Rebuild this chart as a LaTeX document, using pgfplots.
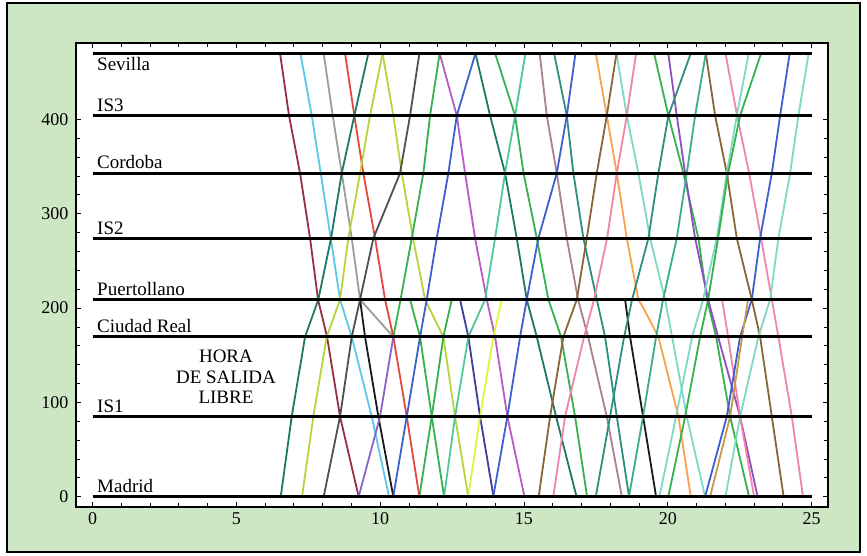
\documentclass[border=0pt]{standalone}
\usepackage{fontspec}
\setmainfont{Liberation Serif}
\usepackage{pgfplots}
\pgfplotsset{compat=1.18}
\definecolor{frameg}{HTML}{CDE6C4}
\definecolor{cmaroon}{HTML}{9B2D41}
\definecolor{ccyan}{HTML}{5BC8E8}
\definecolor{cgrey}{HTML}{A09A98}
\definecolor{cred}{HTML}{E5473F}
\definecolor{cdteal}{HTML}{1E7768}
\definecolor{cygreen}{HTML}{B9D43A}
\definecolor{cdgrey}{HTML}{505050}
\definecolor{cgreen}{HTML}{34B24C}
\definecolor{cviolet}{HTML}{8A63C8}
\definecolor{cmagenta}{HTML}{B75CC2}
\definecolor{cblue}{HTML}{3D5FCF}
\definecolor{ctgreen}{HTML}{4EC79B}
\definecolor{cyellow}{HTML}{E4F03C}
\definecolor{cdblue}{HTML}{3A3F9E}
\definecolor{cbrown}{HTML}{8A6634}
\definecolor{cpink}{HTML}{F184A8}
\definecolor{cmauve}{HTML}{A98192}
\definecolor{cteal}{HTML}{2C8F80}
\definecolor{corange}{HTML}{F9A24B}
\definecolor{clteal}{HTML}{7ED8C4}
\definecolor{cblack}{HTML}{1A1A1A}
\definecolor{csgreen}{HTML}{3AAE8A}
\definecolor{cpurple}{HTML}{8E4FC0}
\definecolor{ctan}{HTML}{C89A4A}
\begin{document}
\begin{tikzpicture}[font=\fontsize{19bp}{20.5bp}\selectfont]
\useasboundingbox (0,0) rectangle (867bp,556bp);
\fill[white] (0,0) rectangle (867bp,556bp);
\draw[line width=2.2bp, fill=frameg] (7bp,4bp) rectangle (860bp,553bp);
\begin{axis}[
  at={(76bp,49bp)}, anchor=south west,
  scale only axis, width=752bp, height=464bp,
  xmin=-0.574, xmax=25.57, ymin=-10.9, ymax=481,
  xtick={0,5,...,25}, ytick={0,100,...,400},
  minor x tick num=4, minor y tick num=4,
  tick align=inside, major tick length=5bp, minor tick length=4bp,
  tick style={black, line width=0.8bp},
  axis line style={line width=1.8bp, black},
  axis background/.style={fill=white},
  /pgf/number format/assume math mode=true,
  ticklabel style={font=\fontsize{18bp}{20bp}\selectfont},
  yticklabel style={xshift=-4bp},
  xticklabel style={yshift=-2bp},
  every axis plot/.append style={line width=1.8bp, line join=round, no markers},
]
% ---- southbound (Sevilla -> Madrid)
\addplot[cmaroon] coordinates {(6.520,470)(6.832,404)(7.215,343)(7.563,274)(7.841,209)(8.154,169.5)(8.606,85)(9.253,0)};
\addplot[ccyan] coordinates {(7.229,470)(7.622,404)(7.935,343)(8.282,274)(8.606,209)(9.013,169.5)(9.708,85)(10.310,0)};
\addplot[cgrey] coordinates {(8.036,470)(8.352,404)(8.665,343)(9.013,274)(9.301,209)(10.459,169.5)};
\addplot[cblack] coordinates {(9.301,209)(9.475,169.5)(9.938,85)(10.459,0)};
\addplot[cred] coordinates {(8.780,470)(9.103,404)(9.416,343)(9.823,274)(10.171,209)(10.459,169.5)(10.925,85)(11.363,0)};
\addplot[cygreen] coordinates {(10.084,470)(10.459,404)(10.751,343)(11.144,274)(11.561,209)(12.198,169.5)(12.604,85)(13.063,0)};
\addplot[cgreen] coordinates {(11.040,209)(11.387,169.5)(11.794,85)(12.222,0)};
\addplot[cmagenta] coordinates {(12.069,470)(12.664,404)(12.952,343)(13.300,274)(13.707,209)(13.995,169.5)(14.423,85)(15.018,0)};
\addplot[cdblue] coordinates {(12.778,209)(13.067,169.5)(13.474,85)(13.943,0)};
\addplot[cdteal] coordinates {(13.314,470)(13.822,404)(14.343,343)(14.750,274)(15.097,209)(15.445,169.5)(16.116,85)(16.829,0)};
\addplot[cgreen] coordinates {(13.995,470)(14.691,404)(14.986,343)(15.445,274)(15.849,209)(16.290,169.5)(16.777,85)(17.194,0)};
\addplot[cmauve] coordinates {(15.546,470)(15.793,404)(16.141,343)(16.489,274)(16.881,209)(17.229,169.5)(17.879,85)(18.404,0)};
\addplot[cteal] coordinates {(16.047,470)(16.489,404)(16.718,343)(17.066,274)(17.532,209)(17.820,169.5)(18.227,85)(18.655,0)};
\addplot[corange] coordinates {(17.497,470)(17.879,404)(18.227,343)(18.575,274)(18.978,209)(19.152,200)(19.673,169.5)(20.369,85)(20.800,0)};
\addplot[clteal] coordinates {(18.216,470)(18.575,404)(18.978,343)(19.385,274)(19.906,209)(20.150,169.5)(20.661,85)(21.297,0)};
\addplot[cblack] coordinates {(18.516,209)(18.689,169.5)(19.141,85)(19.594,0)};
\addplot[cgreen] coordinates {(19.524,470)(20.021,404)(20.543,343)(21.064,274)(21.367,209)(21.680,169.5)(22.167,85)(22.827,0)};
\addplot[cpurple] coordinates {(20.017,470)(20.313,404)(20.602,343)(20.950,274)(21.402,209)(21.749,169.5)(22.514,85)(23.123,0)};
\addplot[cbrown] coordinates {(21.322,470)(21.645,404)(22.052,343)(22.399,274)(22.921,209)(23.210,169.5)(23.617,85)(24.027,0)};
\addplot[cpink] coordinates {(22.006,470)(22.410,404)(22.827,343)(23.244,274)(23.617,209)(23.846,169.5)(24.312,85)(24.701,0)};
\addplot[cpink] coordinates {(21.888,209)(22.097,169.5)(22.514,85)(23.001,0)};
% ---- northbound (Madrid -> Sevilla)
\addplot[cdteal] coordinates {(6.544,0)(6.926,85)(7.389,169.5)(7.851,209)(8.293,274)(8.665,343)(9.103,404)(9.590,470)};
\addplot[cygreen] coordinates {(7.284,0)(7.677,85)(8.143,169.5)(8.606,209)(8.894,274)(9.301,343)(9.649,404)(10.084,470)};
\addplot[cdgrey] coordinates {(8.036,0)(8.606,85)(9.013,169.5)(9.301,209)(9.764,274)(10.692,343)(11.040,404)(11.363,470)};
\addplot[cviolet] coordinates {(9.253,0)(9.997,85)(10.459,169.5)};
\addplot[cgreen] coordinates {(10.459,169.5)(10.709,209)(11.099,274)(11.502,343)(11.735,404)(12.069,470)};
\addplot[cblue] coordinates {(10.456,0)(10.925,85)(11.387,169.5)(11.620,209)(11.968,274)(12.372,343)(12.664,404)(13.314,470)};
\addplot[cgreen] coordinates {(11.363,0)(11.794,85)(12.198,169.5)(12.490,209)};
\addplot[ctgreen] coordinates {(12.222,0)(12.604,85)(13.067,169.5)(13.648,209)(13.995,274)(14.343,343)(14.691,404)(15.052,470)};
\addplot[cyellow] coordinates {(13.063,0)(13.474,85)(13.936,169.5)(14.228,209)};
\addplot[cblue] coordinates {(13.933,0)(14.423,85)(14.865,169.5)(15.097,209)(15.501,274)(16.141,343)(16.489,404)(16.791,470)};
\addplot[cbrown] coordinates {(15.511,0)(15.908,85)(16.370,169.5)(16.836,209)(17.184,274)(17.532,343)(17.879,404)(18.216,470)};
\addplot[cpink] coordinates {(16.019,0)(16.429,85)(17.090,169.5)(17.437,209)(17.890,274)(18.227,343)(18.575,404)(18.898,470)};
\addplot[cteal] coordinates {(17.497,0)(17.994,85)(18.481,169.5)(18.759,209)(19.326,274)(19.673,343)(20.021,404)(20.800,470)};
\addplot[csgreen] coordinates {(18.651,0)(19.141,85)(19.594,169.5)(19.837,209)(20.313,274)(20.661,343)(20.950,404)(21.322,470)};
\addplot[clteal] coordinates {(19.708,0)(20.289,85)(20.846,169.5)(21.227,209)(21.704,274)(22.052,343)(22.399,404)(22.813,470)};
\addplot[cgreen] coordinates {(20.017,0)(20.602,85)(21.123,169.5)(21.402,209)(21.749,274)(22.097,343)(22.514,404)(23.244,470)};
\addplot[cblue] coordinates {(21.297,0)(22.052,85)(22.514,169.5)(22.921,209)(23.210,274)(23.617,343)(23.905,404)(24.239,470)};
\addplot[clteal] coordinates {(22.006,0)(22.514,85)(23.150,169.5)(23.557,209)(23.846,274)(24.253,343)(24.541,404)(24.899,470)};
\addplot[ctan] coordinates {(21.471,0)(22.167,85)(22.584,169.5)(22.792,209)};
% ---- stations
\addplot[black, line width=2.8bp] coordinates {(0,0)(25,0)};
\addplot[black, line width=2.8bp] coordinates {(0,85)(25,85)};
\addplot[black, line width=2.8bp] coordinates {(0,169.5)(25,169.5)};
\addplot[black, line width=2.8bp] coordinates {(0,209)(25,209)};
\addplot[black, line width=2.8bp] coordinates {(0,274)(25,274)};
\addplot[black, line width=2.8bp] coordinates {(0,343)(25,343)};
\addplot[black, line width=2.8bp] coordinates {(0,404)(25,404)};
\addplot[black, line width=2.8bp] coordinates {(0,470)(25,470)};
\node[anchor=base west, inner sep=0pt] at (axis cs:0.156,4) {Madrid};
\node[anchor=base west, inner sep=0pt] at (axis cs:0.156,89.5) {IS1};
\node[anchor=base west, inner sep=0pt] at (axis cs:0.156,174) {Ciudad Real};
\node[anchor=base west, inner sep=0pt] at (axis cs:0.156,213.5) {Puertollano};
\node[anchor=base west, inner sep=0pt] at (axis cs:0.156,278.5) {IS2};
\node[anchor=base west, inner sep=0pt] at (axis cs:0.156,348) {Cordoba};
\node[anchor=base west, inner sep=0pt] at (axis cs:0.156,408) {IS3};
\node[anchor=base west, inner sep=0pt] at (axis cs:0.156,452) {Sevilla};
\node[align=center, inner sep=0pt] at (axis cs:4.64,127) {HORA\\DE SALIDA\\LIBRE};
\end{axis}
\end{tikzpicture}
\end{document}
